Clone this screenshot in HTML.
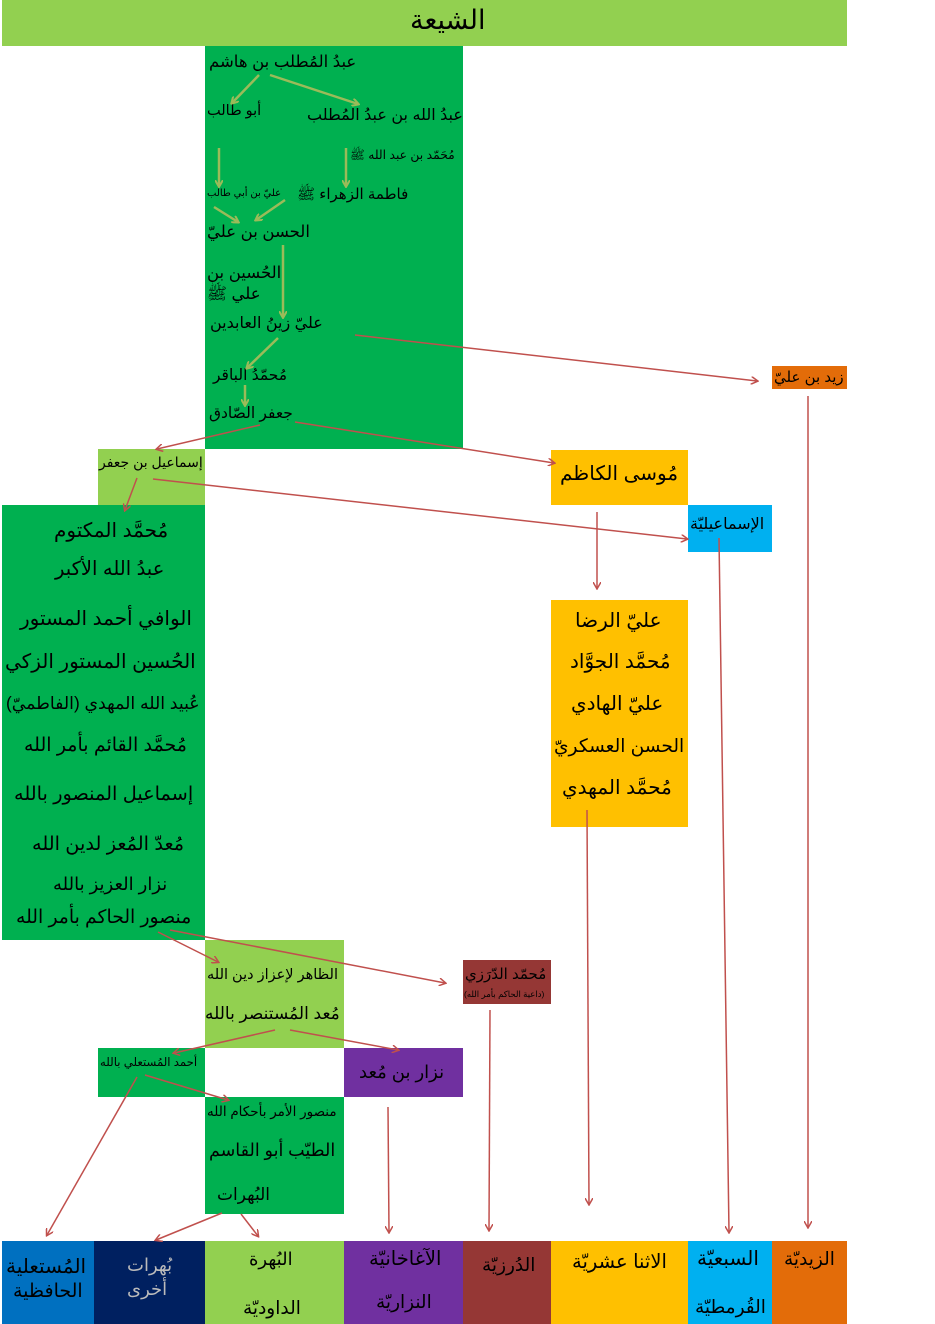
<!DOCTYPE html>
<html><head><meta charset="utf-8"><style>
body{margin:0;width:935px;height:1324px;background:#fff;position:relative;overflow:hidden;font-family:"Liberation Sans","DejaVu Sans",sans-serif}
.b{position:absolute}
.t{position:absolute;white-space:nowrap;direction:rtl;color:#000;line-height:1}
svg{position:absolute;left:0;top:0}
</style></head><body>
<div class="b" style="left:2px;top:0;width:845px;height:46px;background:#92D050"></div>
<div class="t" style="left:410px;top:7px;font-size:27px">الشيعة</div>
<div class="b" style="left:205px;top:46px;width:258px;height:403px;background:#00B050"></div>
<div class="b" style="left:98px;top:449px;width:107px;height:56px;background:#92D050"></div>
<div class="b" style="left:2px;top:505px;width:203px;height:435px;background:#00B050"></div>
<div class="b" style="left:772px;top:366px;width:75px;height:23px;background:#E36C09"></div>
<div class="b" style="left:551px;top:450px;width:137px;height:55px;background:#FFC000"></div>
<div class="b" style="left:688px;top:505px;width:84px;height:47px;background:#00B0F0"></div>
<div class="b" style="left:551px;top:600px;width:137px;height:227px;background:#FFC000"></div>
<div class="b" style="left:205px;top:940px;width:139px;height:108px;background:#92D050"></div>
<div class="b" style="left:463px;top:960px;width:88px;height:44px;background:#953735"></div>
<div class="b" style="left:98px;top:1048px;width:107px;height:49px;background:#00B050"></div>
<div class="b" style="left:344px;top:1048px;width:119px;height:49px;background:#7030A0"></div>
<div class="b" style="left:205px;top:1097px;width:139px;height:117px;background:#00B050"></div>
<div class="b" style="left:2px;top:1241px;width:92px;height:83px;background:#0070C0"></div>
<div class="b" style="left:94px;top:1241px;width:111px;height:83px;background:#002060"></div>
<div class="b" style="left:205px;top:1241px;width:139px;height:83px;background:#92D050"></div>
<div class="b" style="left:344px;top:1241px;width:119px;height:83px;background:#7030A0"></div>
<div class="b" style="left:463px;top:1241px;width:88px;height:83px;background:#953735"></div>
<div class="b" style="left:551px;top:1241px;width:137px;height:83px;background:#FFC000"></div>
<div class="b" style="left:688px;top:1241px;width:84px;height:83px;background:#00B0F0"></div>
<div class="b" style="left:772px;top:1241px;width:75px;height:83px;background:#E36C09"></div>

<div class="t" style="left:209px;top:54px;font-size:16.5px">عبدُ المُطلب بن هاشم</div>
<div class="t" style="left:207px;top:104px;font-size:14.5px">أبو طالب</div>
<div class="t" style="left:307px;top:108px;font-size:16px">عبدُ الله بن عبدُ المُطلب</div>
<div class="t" style="left:350px;top:149px;font-size:12.3px">مُحَمّد بن عبد الله ﷺ</div>
<div class="t" style="left:207px;top:189px;font-size:10px">عليّ بن أبي طالب</div>
<div class="t" style="left:297px;top:187px;font-size:15px">فاطمة الزهراء ﷺ</div>
<div class="t" style="left:207px;top:224px;font-size:16.5px">الحسن بن عليّ</div>
<div class="t" style="left:207px;top:265px;font-size:16.5px">الحُسين بن</div>
<div class="t" style="left:207px;top:286px;font-size:16.5px">علي ﷺ</div>
<div class="t" style="left:210px;top:316px;font-size:16px">عليّ زينُ العابدين</div>
<div class="t" style="left:213px;top:368px;font-size:15.5px">مُحمّدُ الباقر</div>
<div class="t" style="left:209px;top:406px;font-size:15.5px">جعفر الصّادق</div>
<div class="t" style="left:774px;top:370px;font-size:15px">زيد بن عليّ</div>
<div class="t" style="left:99px;top:455px;font-size:14px">إسماعيل بن جعفر</div>
<div class="t" style="left:560px;top:464px;font-size:20px">مُوسى الكاظم</div>
<div class="t" style="left:690px;top:517px;font-size:16px">الإسماعيليّة</div>
<div class="t" style="left:54px;top:521px;font-size:20px">مُحمَّد المكتوم</div>
<div class="t" style="left:55px;top:560px;font-size:19.5px">عبدُ الله الأكبر</div>
<div class="t" style="left:20px;top:609px;font-size:20px">الوافي أحمد المستور</div>
<div class="t" style="left:5px;top:652px;font-size:20px">الحُسين المستور الزكي</div>
<div class="t" style="left:6px;top:695px;font-size:17.3px">عُبيد الله المهدي (الفاطميّ)</div>
<div class="t" style="left:24px;top:736px;font-size:19px">مُحمَّد القائم بأمر الله</div>
<div class="t" style="left:14px;top:785px;font-size:19.3px">إسماعيل المنصور بالله</div>
<div class="t" style="left:32px;top:835px;font-size:19.3px">مُعدّ المُعز لدين الله</div>
<div class="t" style="left:53px;top:875px;font-size:18px">نزار العزيز بالله</div>
<div class="t" style="left:16px;top:908px;font-size:18.8px">منصور الحاكم بأمر الله</div>
<div class="t" style="left:575px;top:611px;font-size:20px">عليّ الرضا</div>
<div class="t" style="left:570px;top:652px;font-size:20px">مُحمَّد الجوَّاد</div>
<div class="t" style="left:571px;top:694px;font-size:20px">عليّ الهادي</div>
<div class="t" style="left:554px;top:737px;font-size:18.6px">الحسن العسكريّ</div>
<div class="t" style="left:562px;top:778px;font-size:20px">مُحمَّد المهدي</div>
<div class="t" style="left:207px;top:968px;font-size:14.5px">الظاهر لإعزاز دين الله</div>
<div class="t" style="left:205px;top:1005px;font-size:17px">مُعد المُستنصر بالله</div>
<div class="t" style="left:465px;top:967px;font-size:15px">مُحمّد الدّرَزي</div>
<div class="t" style="left:464px;top:990px;font-size:8.5px">(داعية الحاكم بأمر الله)</div>
<div class="t" style="left:100px;top:1057px;font-size:11.7px">أحمد المُستعلي بالله</div>
<div class="t" style="left:359px;top:1063px;font-size:18px">نزار بن مُعد</div>
<div class="t" style="left:207px;top:1105px;font-size:13.5px">منصور الأمر بأحكام الله</div>
<div class="t" style="left:209px;top:1142px;font-size:17.5px">الطيّب أبو القاسم</div>
<div class="t" style="left:217px;top:1186px;font-size:17px">البُهرات</div>
<div class="t" style="left:6px;top:1257px;font-size:20px">المُستعلية</div>
<div class="t" style="left:13px;top:1282px;font-size:19px">الحافظية</div>
<div class="t" style="left:127px;top:1256px;font-size:18px;color:#bbb">بُهرات</div>
<div class="t" style="left:127px;top:1280px;font-size:18px;color:#bbb">أخرى</div>
<div class="t" style="left:249px;top:1250px;font-size:18px">البُهرة</div>
<div class="t" style="left:243px;top:1299px;font-size:18.5px">الداوديّة</div>
<div class="t" style="left:369px;top:1250px;font-size:19.5px">الآغاخانيّة</div>
<div class="t" style="left:376px;top:1293px;font-size:18.5px">النزاريّة</div>
<div class="t" style="left:482px;top:1256px;font-size:18.5px">الدُرزيّة</div>
<div class="t" style="left:572px;top:1253px;font-size:19.5px">الاثنا عشريّة</div>
<div class="t" style="left:697px;top:1249px;font-size:20px">السبعيّة</div>
<div class="t" style="left:695px;top:1298px;font-size:18.5px">القُرمطيّة</div>
<div class="t" style="left:784px;top:1250px;font-size:18.5px">الزيديّة</div>

<svg width="935" height="1324">
<defs>
<marker id="g" markerWidth="8" markerHeight="8" refX="6" refY="4" orient="auto" markerUnits="userSpaceOnUse"><path d="M0,0 L7,4 L0,8" fill="none" stroke="#9BBB59" stroke-width="2"/></marker>
<marker id="r" markerWidth="8" markerHeight="8" refX="6" refY="4" orient="auto" markerUnits="userSpaceOnUse"><path d="M0,0 L7,4 L0,8" fill="none" stroke="#C0504D" stroke-width="1.5"/></marker>
</defs>
<g stroke="#9BBB59" stroke-width="2.5" fill="none" marker-end="url(#g)">
<line x1="259" y1="75" x2="232" y2="103"/>
<line x1="270" y1="75" x2="358" y2="104"/>
<line x1="219" y1="148" x2="219" y2="186"/>
<line x1="346" y1="148" x2="346" y2="186"/>
<line x1="214" y1="207" x2="238" y2="222"/>
<line x1="285" y1="200" x2="256" y2="220"/>
<line x1="283" y1="245" x2="283" y2="317"/>
<line x1="278" y1="338" x2="247" y2="368"/>
<line x1="245" y1="385" x2="245" y2="405"/>
</g>
<g stroke="#C0504D" stroke-width="1.5" fill="none" marker-end="url(#r)">
<line x1="355" y1="335" x2="757" y2="381"/>
<line x1="260" y1="425" x2="157" y2="449"/>
<line x1="295" y1="422" x2="554" y2="463"/>
<line x1="137" y1="478" x2="125" y2="510"/>
<line x1="153" y1="479" x2="687" y2="539"/>
<line x1="808" y1="396" x2="808" y2="1227"/>
<line x1="597" y1="512" x2="597" y2="588"/>
<line x1="719" y1="538" x2="729" y2="1232"/>
<line x1="587" y1="810" x2="589" y2="1204"/>
<line x1="158" y1="932" x2="218" y2="962"/>
<line x1="170" y1="930" x2="445" y2="983"/>
<line x1="490" y1="1010" x2="489" y2="1230"/>
<line x1="275" y1="1030" x2="174" y2="1053"/>
<line x1="290" y1="1030" x2="398" y2="1050"/>
<line x1="145" y1="1075" x2="228" y2="1100"/>
<line x1="137" y1="1077" x2="47" y2="1235"/>
<line x1="388" y1="1107" x2="389" y2="1232"/>
<line x1="222" y1="1213" x2="156" y2="1240"/>
<line x1="241" y1="1214" x2="258" y2="1236"/>
</g>
</svg>
</body></html>
